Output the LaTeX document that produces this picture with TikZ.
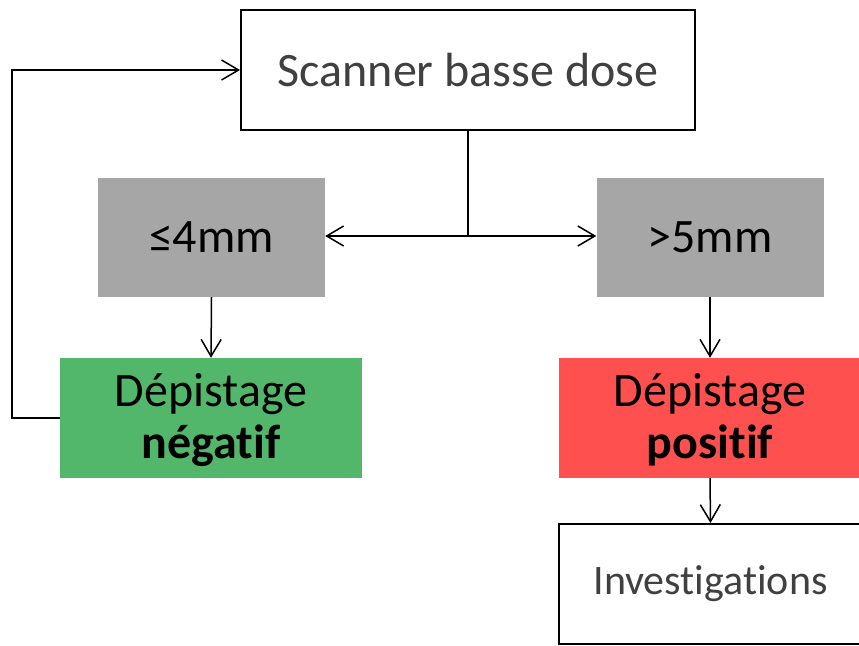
\documentclass[tikz,border=0pt]{standalone}
\usepackage{fontspec}
\setmainfont{Carlito}[Ligatures=NoCommon]
\usetikzlibrary{arrows.meta}
\definecolor{txtgray}{HTML}{404040}
\definecolor{boxgray}{HTML}{A6A6A6}
\definecolor{boxgreen}{HTML}{52B76B}
\definecolor{boxred}{HTML}{FF5050}
\tikzset{
  whitebox/.style={draw=black, line width=2pt, fill=white, text=txtgray, inner sep=0pt, align=center},
  graybox/.style={fill=boxgray, text=black, inner sep=0pt, minimum width=227pt, minimum height=119pt, align=center},
  resultbox/.style={text=black, inner sep=0pt, minimum width=302pt, minimum height=120pt, align=center, text depth=4pt},
  conn/.style={line width=1.5pt, -{Straight Barb[length=17pt, width=20pt, line width=1.5pt]}},
  plain/.style={line width=1.5pt},
  bigfont/.style={font=\fontsize{48}{54}\selectfont},
}
\begin{document}
\begin{tikzpicture}[x=1pt, y=-1pt]
\useasboundingbox (0,0) rectangle (859,645);
\clip (0,0) rectangle (859,645);
\node[whitebox, bigfont, minimum width=454pt, minimum height=120pt] (scan) at (468,70) {Scanner basse dose};
\node[graybox, bigfont] (small) at (211.5,237.5) {≤4mm};
\node[graybox, bigfont] (large) at (710,237.5) {>5mm};
\node[resultbox, fill=boxgreen, bigfont] (neg) at (211,418) {Dépistage\\[-2pt]\textbf{négatif}};
\node[resultbox, fill=boxred, bigfont] (pos) at (710,418) {Dépistage\\[-2pt]\textbf{positif}};
\node[whitebox, font=\fontsize{42}{48}\selectfont, minimum width=303pt, minimum height=120pt] (inv) at (710.5,584) {Investigations};
\coordinate (junc) at (468,236);
\draw[plain] (scan.south) -- (junc);
\draw[conn] (junc) -- (small.east |- junc);
\draw[conn] (junc) -- (large.west |- junc);
\draw[conn] (small.south) -- (neg.north);
\draw[conn] (large.south) -- (pos.north);
\draw[conn] (pos.south) -- (inv.north);
\coordinate (loopA) at (12,418);
\coordinate (loopB) at (12,70);
\draw[conn] (neg.west |- loopA) -- (loopA) -- (loopB) -- (scan.west);
\end{tikzpicture}
\end{document}
